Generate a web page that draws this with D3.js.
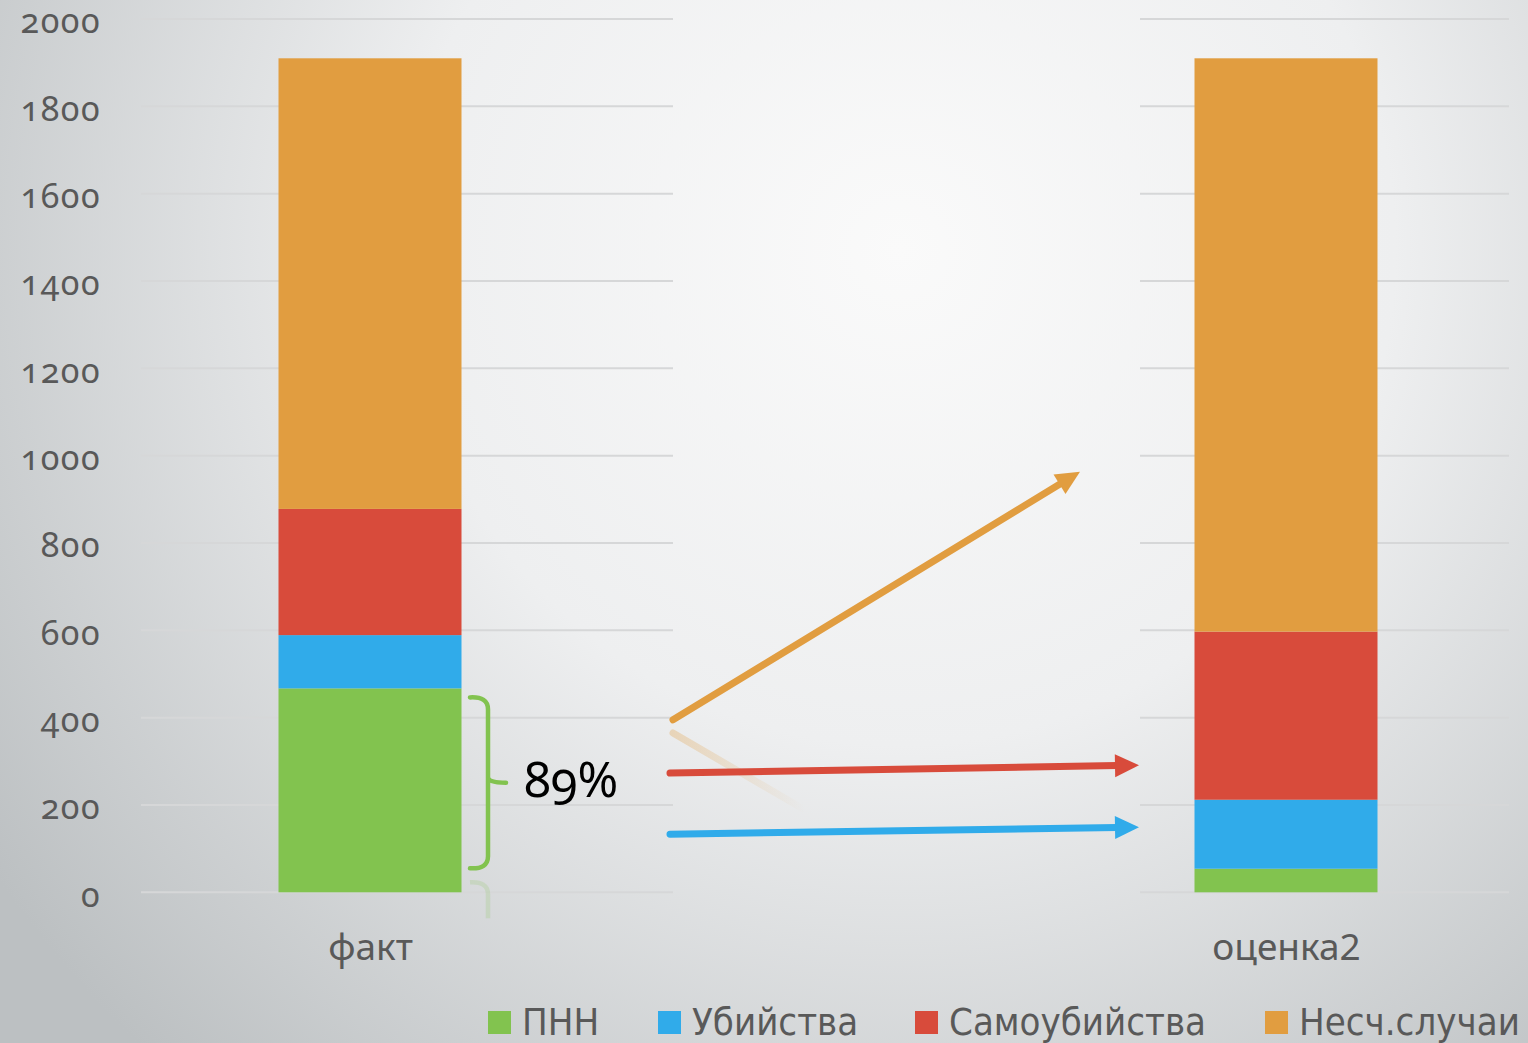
<!DOCTYPE html>
<html><head><meta charset="utf-8">
<script src="https://cdn.jsdelivr.net/npm/d3@7/dist/d3.min.js"></script>
<style>
html,body{margin:0;padding:0;overflow:hidden;}
svg{display:block;}
</style></head>
<body>
<script>
const categories = ["факт", "оценка2"];
const seriesNames = ["ПНН", "Убийства", "Самоубийства", "Несч.случаи"];
const pnn = [467, 54];
const ubiystva = [122, 158];
const samoubiystva = [289, 385];
const neschSluchai = [1032, 1313];
const yTicks = [0, 200, 400, 600, 800, 1000, 1200, 1400, 1600, 1800, 2000];
const colors = ["#82c34f", "#30abea", "#d84b3b", "#e19d40"];
const bracketLabel = "89%";

const W = 1528, H = 1043;
const svg = d3.select("body").append("svg").attr("width", W).attr("height", H);
const defs = svg.append("defs");
const rg = defs.append("radialGradient").attr("id", "bg")
  .attr("gradientUnits", "userSpaceOnUse")
  .attr("cx", 900).attr("cy", 250).attr("r", 1100);
rg.append("stop").attr("offset", "0").attr("stop-color", "#fafafa");
rg.append("stop").attr("offset", "0.45").attr("stop-color", "#eeeff0");
rg.append("stop").attr("offset", "1").attr("stop-color", "#bcc0c2");
svg.append("rect").attr("width", W).attr("height", H).attr("fill", "url(#bg)");

const y = d3.scaleLinear().domain([0, 2000]).range([892.3, 19]);
const x = d3.scalePoint().domain(categories).range([370, 1286]);
const barW = 183;

// gridlines (two segments, middle gap covered by annotation area)
const segs = [[141, 673], [1140, 1509]];
const grid = svg.append("g");
segs.forEach(([a, b]) => {
  grid.selectAll(null).data(yTicks).enter().append("line")
    .attr("x1", a).attr("x2", b)
    .attr("y1", d => y(d)).attr("y2", d => y(d))
    .attr("stroke", "#d6d7d8").attr("stroke-width", 2);
});

// y axis labels
const yAxis = d3.axisLeft(y).tickValues(yTicks).tickFormat(d3.format("d")).tickSize(0).tickPadding(0);
const ya = svg.append("g").attr("transform", "translate(101,3)").call(yAxis);
ya.select(".domain").remove();
ya.selectAll("text").attr("font-family", "'Noto Sans', 'Open Sans', sans-serif")
  .attr("font-size", 34).attr("fill", "#595959").attr("letter-spacing", 1.5)
  .style("font-variant-numeric", "oldstyle-nums");

// stacked bars
const table = categories.map((c, i) => ({
  cat: c, "ПНН": pnn[i], "Убийства": ubiystva[i], "Самоубийства": samoubiystva[i], "Несч.случаи": neschSluchai[i]
}));
const stack = d3.stack().keys(seriesNames)(table);
svg.append("g").selectAll("g").data(stack).enter().append("g")
  .attr("fill", (d, i) => colors[i])
  .selectAll("rect").data(d => d).enter().append("rect")
  .attr("x", d => x(d.data.cat) - barW / 2)
  .attr("width", barW)
  .attr("y", d => y(d[1]))
  .attr("height", d => y(d[0]) - y(d[1]));

// x labels
const xAxis = d3.axisBottom(x).tickSize(0).tickPadding(0);
const xa = svg.append("g").attr("transform", "translate(0,960)").call(xAxis);
xa.select(".domain").remove();
xa.selectAll("text").attr("font-family", "'Noto Sans', 'Open Sans', sans-serif")
  .attr("font-size", 37).attr("fill", "#595959").attr("dy", 0);

// bracket for ПНН
const bx = 470;
const b0 = y(pnn[0]) + 9, b1 = y(0) - 24, bm = (b0 + b1) / 2;
const bracket = d3.path();
bracket.moveTo(bx, b0); bracket.quadraticCurveTo(bx + 18, b0 - 1, bx + 18, b0 + 12);
bracket.lineTo(bx + 18, bm - 6); bracket.quadraticCurveTo(bx + 18, bm, bx + 36, bm);
bracket.moveTo(bx + 18, bm + 6 - 12); bracket.quadraticCurveTo(bx + 18, bm, bx + 18, bm + 6);
bracket.lineTo(bx + 18, b1 - 12); bracket.quadraticCurveTo(bx + 18, b1 + 1, bx, b1);
svg.append("path").attr("d", bracket.toString()).attr("fill", "none")
  .attr("stroke", colors[0]).attr("stroke-width", 4.5).attr("stroke-linecap", "round");
// faint reflection
const refl = svg.append("g").attr("opacity", 0.18);
refl.append("path").attr("d", `M${bx},${b1 + 14} Q${bx + 18},${b1 + 13} ${bx + 18},${b1 + 26} L${bx + 18},${b1 + 50}`)
  .attr("fill", "none").attr("stroke", colors[0]).attr("stroke-width", 4.5);

svg.append("text").attr("x", 524).attr("y", 797).text(bracketLabel)
  .attr("font-family", "'Noto Sans', 'Open Sans', sans-serif").attr("font-size", 49)
  .style("font-variant-numeric", "oldstyle-nums").attr("fill", "#000");

// arrows (annotation)
const arrows = [
  { c: colors[3], x1: 673, v1: 395, x2: 1080, v2: 963 },
  { c: colors[2], x1: 670, v1: 273, x2: 1139, v2: 291 },
  { c: colors[1], x1: 670, v1: 133, x2: 1139, v2: 149 }
];
// faint reflection of orange
const rf = defs.append("linearGradient").attr("id", "rf").attr("x1", 0).attr("x2", 1).attr("y1", 0).attr("y2", 0);
rf.append("stop").attr("offset", 0).attr("stop-color", colors[3]).attr("stop-opacity", 0.3);
rf.append("stop").attr("offset", 1).attr("stop-color", colors[3]).attr("stop-opacity", 0);
svg.append("line").attr("x1", 673).attr("y1", 733).attr("x2", 805).attr("y2", 810)
  .attr("stroke", "url(#rf)").attr("stroke-width", 7).attr("stroke-linecap", "round");

arrows.forEach(a => {
  const X1 = a.x1, Y1 = y(a.v1), X2 = a.x2, Y2 = y(a.v2);
  const ang = Math.atan2(Y2 - Y1, X2 - X1);
  const L = 24, hw = 11.5;
  const bxp = X2 - L * Math.cos(ang), byp = Y2 - L * Math.sin(ang);
  svg.append("line").attr("x1", X1).attr("y1", Y1).attr("x2", bxp + 2 * Math.cos(ang)).attr("y2", byp + 2 * Math.sin(ang))
    .attr("stroke", a.c).attr("stroke-width", 7).attr("stroke-linecap", "round");
  const px = -Math.sin(ang), py = Math.cos(ang);
  svg.append("polygon").attr("fill", a.c)
    .attr("points", [[X2, Y2], [bxp + px * hw, byp + py * hw], [bxp - px * hw, byp - py * hw]].map(p => p.join(",")).join(" "));
});

// legend
const legX = [488, 658, 915, 1265];
const lg = svg.append("g");
seriesNames.forEach((n, i) => {
  lg.append("rect").attr("x", legX[i]).attr("y", 1011).attr("width", 23).attr("height", 23).attr("fill", colors[i]);
  lg.append("text").attr("x", legX[i] + 34).attr("y", 1035).text(n)
    .attr("font-family", "'DejaVu Sans Condensed', 'Liberation Sans Narrow', sans-serif")
    .attr("font-size", 38).attr("fill", "#595959");
});
</script>
</body></html>
